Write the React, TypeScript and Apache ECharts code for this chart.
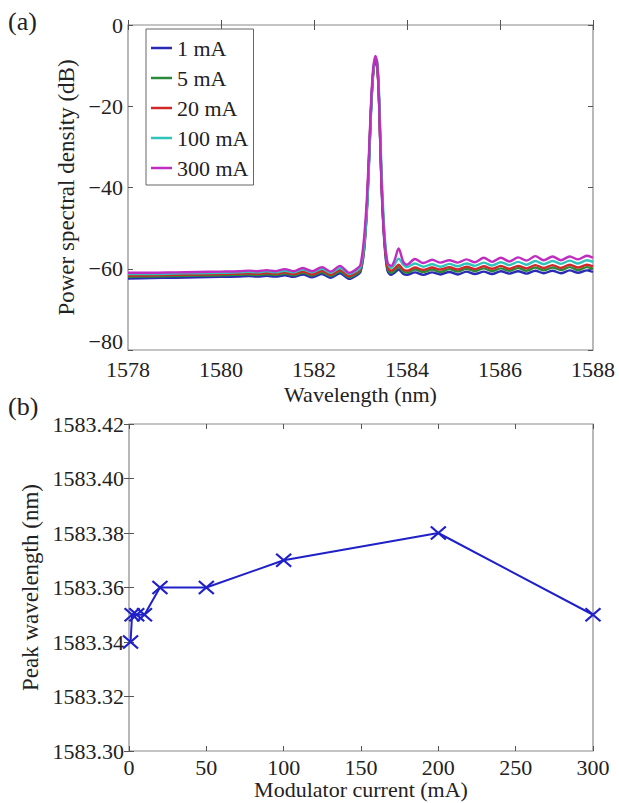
import React, { useEffect, useRef } from "react";
import * as echarts from "echarts";

// ---- Panel (a): spectra ----
const wavelength = [
  1578.0, 1578.5, 1579.0, 1579.5, 1580.0, 1580.4, 1580.6, 1580.79, 1580.98, 1581.17,
  1581.37, 1581.56, 1581.76, 1581.96, 1582.17, 1582.36, 1582.56, 1582.76, 1582.92,
  1583.0, 1583.08, 1583.15, 1583.22, 1583.27, 1583.32, 1583.36, 1583.4, 1583.45, 1583.51,
  1583.58, 1583.66, 1583.73, 1583.82, 1583.92, 1584.0,
  1584.17, 1584.35, 1584.54, 1584.72, 1584.91, 1585.09, 1585.28, 1585.46, 1585.65, 1585.83,
  1586.02, 1586.2, 1586.39, 1586.57, 1586.76, 1586.94, 1587.13, 1587.31, 1587.5, 1587.68,
  1587.87, 1588.0,
];

const psd1mA = [
  -62.4, -62.3, -62.2, -62.1, -62.0, -61.9, -61.8, -61.95, -61.75, -61.95, -61.6, -62.0, -61.4, -62.1, -61.3, -62.2, -61.1, -62.5, -61.6,
  -60.8, -55, -43, -23, -12.5, -9.0, -10.2, -19.5, -39, -53, -60.5, -61.5, -61.0, -60.2, -61.3, -61.5,
  -60.9, -61.5, -60.9, -61.4, -60.8, -61.4, -60.7, -61.3, -60.7, -61.3, -60.6, -61.2, -60.6, -61.2, -60.5, -61.1, -60.5, -61.1, -60.4, -61.0, -60.4, -60.8,
];
const psd5mA = [
  -62.0, -61.9, -61.8, -61.7, -61.6, -61.5, -61.4, -61.55, -61.35, -61.55, -61.2, -61.6, -61.0, -61.7, -60.9, -61.8, -60.7, -62.1, -61.2,
  -60.4, -55, -42, -22, -12, -8.8, -10, -19, -38, -52, -60.0, -61.0, -60.5, -59.6, -60.7, -61.0,
  -60.2, -60.8, -60.2, -60.8, -60.1, -60.7, -60.0, -60.6, -59.9, -60.6, -59.9, -60.5, -59.8, -60.5, -59.7, -60.4, -59.7, -60.3, -59.6, -60.3, -59.6, -60.0,
];
const psd20mA = [
  -61.7, -61.6, -61.5, -61.4, -61.3, -61.2, -61.1, -61.25, -61.05, -61.25, -60.9, -61.3, -60.7, -61.4, -60.5, -61.5, -60.3, -61.8, -60.9,
  -60.0, -54, -42, -22, -12, -8.5, -9.8, -19, -38, -52, -59.5, -60.5, -60.0, -59.0, -60.2, -60.5,
  -59.7, -60.3, -59.7, -60.2, -59.6, -60.2, -59.5, -60.1, -59.4, -60.0, -59.3, -60.0, -59.3, -59.9, -59.1, -59.8, -59.1, -59.8, -59.0, -59.7, -59.0, -59.4,
];
const psd100mA = [
  -61.3, -61.3, -61.2, -61.1, -61.0, -60.9, -60.75, -60.9, -60.65, -60.9, -60.5, -60.9, -60.2, -60.9, -60.0, -61.0, -59.8, -61.3, -60.5,
  -59.6, -54, -43, -23, -12, -8.2, -9.0, -17, -35, -50, -58.5, -59.8, -59.0, -57.5, -59.0, -59.6,
  -58.7, -59.5, -58.9, -59.5, -58.8, -59.4, -58.7, -59.3, -58.5, -59.2, -58.4, -59.1, -58.3, -59.0, -58.1, -58.9, -58.1, -58.8, -58.0, -58.7, -57.9, -58.3,
];
const psd300mA = [
  -61.0, -61.0, -60.9, -60.8, -60.7, -60.6, -60.45, -60.6, -60.35, -60.6, -60.1, -60.6, -59.8, -60.6, -59.6, -60.7, -59.3, -61.0, -60.0,
  -59.0, -52, -40, -21, -11, -7.6, -9.5, -19, -38, -52, -58.5, -59.3, -58.0, -55.0, -58.3, -59.0,
  -57.6, -58.6, -57.8, -58.5, -57.9, -58.5, -57.7, -58.4, -57.3, -58.3, -57.3, -58.2, -57.2, -58.0, -56.9, -57.9, -57.0, -57.9, -57.0, -57.7, -56.8, -57.3,
];
const spectraNames = ["1 mA", "5 mA", "20 mA", "100 mA", "300 mA"];
const spectraColors = ["#2a2ab4", "#2a8a3a", "#d02828", "#2ec4bc", "#c02cc0"];

// ---- Panel (b): peak wavelength ----
const modCurrent = [1, 2, 5, 10, 20, 50, 100, 200, 300];
const peakWavelength = [1583.34, 1583.35, 1583.35, 1583.35, 1583.36, 1583.36, 1583.37, 1583.38, 1583.35];

const FONT = "Liberation Serif";
const TXT = "#222";
const BOX = "#8a8a8a";

export default function App() {
  const ref = useRef<HTMLDivElement>(null);
  useEffect(() => {
    if (!ref.current) return;
    const chart = echarts.init(ref.current, null, { renderer: "svg" });
    const spectra = [psd1mA, psd5mA, psd20mA, psd100mA, psd300mA];
    const tickStyle = { fontFamily: FONT, fontSize: 22, lineHeight: 18, color: TXT };
    const xNameStyle = { fontFamily: FONT, fontSize: 22, lineHeight: 22, color: TXT };
    const yNameStyle = { fontFamily: FONT, fontSize: 23, lineHeight: 23, color: TXT };
    const tick = { show: true, inside: true, length: 5, lineStyle: { color: "#555", width: 1 } };
    const minus = (v: number) => String(v).replace("-", "\u2212");

    const mirrorX = (gridIndex: number, min: number, max: number, interval: number) => ({
      type: "value", gridIndex, position: "top", min, max, interval,
      axisLine: { show: false }, axisLabel: { show: false }, axisTick: tick, splitLine: { show: false },
    });
    const mirrorY = (gridIndex: number, min: number, max: number, interval: number) => ({
      type: "value", gridIndex, position: "right", min, max, interval,
      axisLine: { show: false }, axisLabel: { show: false }, axisTick: tick, splitLine: { show: false },
    });

    chart.setOption({
      animation: false,
      backgroundColor: "#fff",
      textStyle: { fontFamily: FONT },
      grid: [
        { left: 128, top: 25, width: 465, height: 325, show: true, borderColor: BOX, borderWidth: 1.2, backgroundColor: "transparent" },
        { left: 129, top: 424, width: 464, height: 327, show: true, borderColor: BOX, borderWidth: 1.2, backgroundColor: "transparent" },
      ],
      graphic: [
        { type: "text", left: 8, top: 8, style: { text: "(a)", font: `26px ${FONT}`, fill: TXT } },
        { type: "text", left: 8, top: 393, style: { text: "(b)", font: `26px ${FONT}`, fill: TXT } },
      ],
      legend: {
        show: true,
        orient: "vertical",
        left: 146,
        top: 29,
        data: spectraNames,
        icon: "rect",
        itemWidth: 21,
        itemHeight: 2.5,
        itemGap: 8,
        padding: [8, 5, 6, 5],
        borderColor: "#666",
        borderWidth: 1,
        backgroundColor: "#fff",
        textStyle: { fontFamily: FONT, fontSize: 22, lineHeight: 20, color: TXT },
      },
      xAxis: [
        {
          type: "value", gridIndex: 0, min: 1578, max: 1588, interval: 2,
          name: "Wavelength (nm)", nameLocation: "middle", nameGap: 33,
          nameTextStyle: xNameStyle,
          axisLine: { show: false }, axisTick: tick, splitLine: { show: false },
          axisLabel: { ...tickStyle, margin: 10, formatter: (v: number) => String(v) },
        },
        mirrorX(0, 1578, 1588, 2),
        {
          type: "value", gridIndex: 1, min: 0, max: 300, interval: 50,
          name: "Modulator current (mA)", nameLocation: "middle", nameGap: 26,
          nameTextStyle: xNameStyle,
          axisLine: { show: false }, axisTick: tick, splitLine: { show: false },
          axisLabel: { ...tickStyle, margin: 7, formatter: (v: number) => String(v) },
        },
        mirrorX(1, 0, 300, 50),
      ],
      yAxis: [
        {
          type: "value", gridIndex: 0, min: -80, max: 0, interval: 20,
          name: "Power spectral density (dB)", nameLocation: "middle", nameGap: 44,
          nameTextStyle: yNameStyle,
          axisLine: { show: false }, axisTick: tick, splitLine: { show: false },
          axisLabel: { ...tickStyle, margin: 5, formatter: minus, verticalAlignMinLabel: "bottom" },
        },
        mirrorY(0, -80, 0, 20),
        {
          type: "value", gridIndex: 1, min: 1583.3, max: 1583.42, interval: 0.02,
          name: "Peak wavelength (nm)", nameLocation: "middle", nameGap: 82,
          nameTextStyle: yNameStyle,
          axisLine: { show: false }, axisTick: tick, splitLine: { show: false },
          axisLabel: { ...tickStyle, margin: 5, formatter: (v: number) => v.toFixed(2) },
        },
        mirrorY(1, 1583.3, 1583.42, 0.02),
      ],
      series: [
        ...spectra.map((vals, i) => ({
          type: "line",
          name: spectraNames[i],
          xAxisIndex: 0,
          yAxisIndex: 0,
          data: wavelength.map((w, j) => [w, vals[j]]),
          showSymbol: false,
          smooth: 0.3,
          color: spectraColors[i],
          lineStyle: { color: spectraColors[i], width: 2.4 },
        })),
        {
          type: "line",
          name: "peak",
          xAxisIndex: 2,
          yAxisIndex: 2,
          data: modCurrent.map((c, j) => [c, peakWavelength[j]]),
          symbol: "path://M0,0 L10,10 M10,0 L0,10",
          symbolSize: [15, 13],
          showAllSymbol: true,
          color: "#2020c8",
          lineStyle: { color: "#2020c8", width: 2 },
          itemStyle: { color: "#2020c8", borderColor: "#2020c8", borderWidth: 2 },
        },
      ],
    });
    return () => chart.dispose();
  }, []);
  return <div ref={ref} style={{ position: "absolute", left: 0, top: 0, width: 619, height: 803 }} />;
}
